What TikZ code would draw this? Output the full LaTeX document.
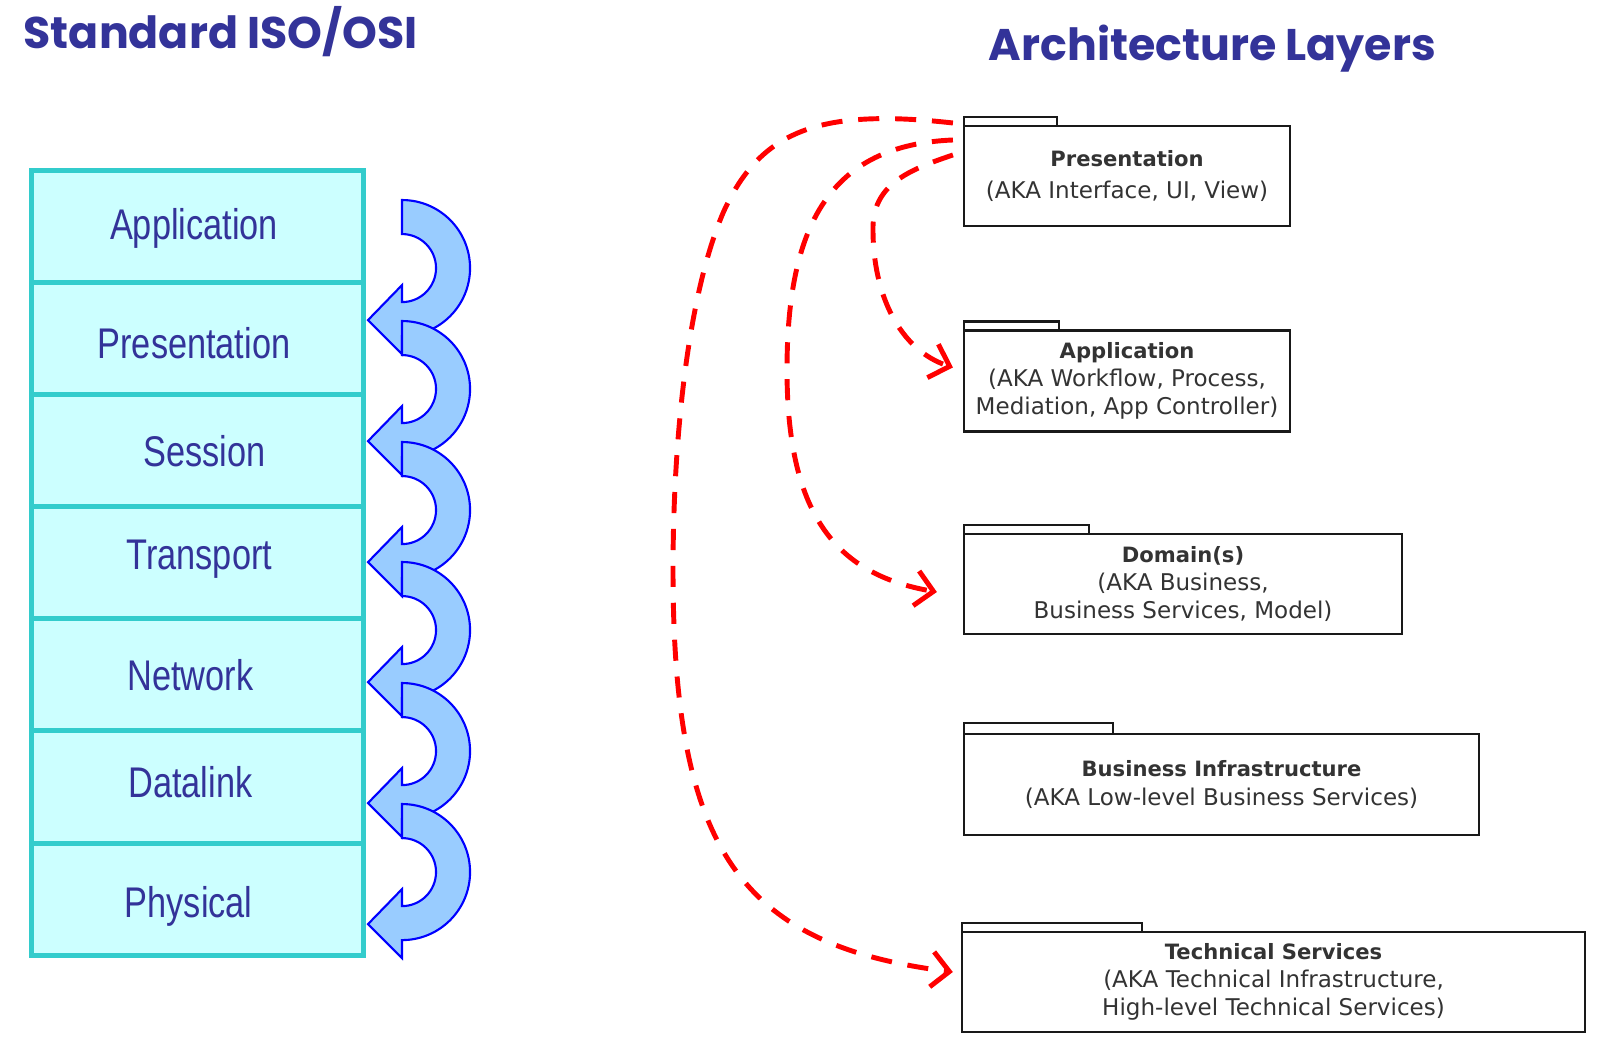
\documentclass[tikz,border=0pt]{standalone}
\usepackage{fontspec}
\setmainfont{DejaVu Sans}
\newfontfamily\narrowfont[FakeStretch=0.8]{Liberation Sans}
\newfontfamily\headfont{Poppins}
\usetikzlibrary{arrows.meta}

\definecolor{osiblue}{HTML}{333399}
\definecolor{layerfill}{HTML}{CCFFFF}
\definecolor{layerline}{HTML}{33CCCC}
\definecolor{turnfill}{HTML}{99CCFF}
\definecolor{turnline}{HTML}{0000FF}

\tikzset{
  heading/.style={anchor=base west, inner sep=0pt, text=osiblue, font=\headfont\bfseries\fontsize{12.6}{15}\selectfont},
  layer/.style={draw=layerline, fill=layerfill, line width=1.4pt, minimum width=3.31cm, minimum height=1.121cm, inner sep=0pt, outer sep=0pt, text=osiblue, font=\narrowfont\fontsize{12.2}{14}\selectfont, text height=8.7pt, text depth=0pt},
  turn/.style={draw=turnline, fill=turnfill, line width=0.6pt, line join=miter},
  pkg/.style={draw=black!90, line width=0.6pt, fill=white, align=center, inner sep=0pt, outer sep=0pt, text=black!80, font=\fontsize{6.55}{8}\selectfont},
  pkgtab/.style={draw=black!90, line width=0.6pt},
  link/.style={draw=red, line width=1.4pt, dash pattern=on 6pt off 4.5pt, -{Straight Barb[length=5pt,width=10pt]}},
}

\begin{document}
\begin{tikzpicture}[x=0.01cm, y=-0.01cm]
\useasboundingbox (0,0) rectangle (1601,1044);

\node[heading](osi) at (23,48) {Standard ISO/OSI};
\node[heading](arch) at (988,60) {Architecture Layers};

% ISO/OSI stack
\node[layer, text depth=1.5pt](L7) at (197.5,226.5) {Application\hspace*{2pt}};
\node[layer, text height=11.5pt](L6) at (197.5,338.6) {Presentation\hspace*{2pt}};
\node[layer](L5) at (197.5,450.7) {\hspace*{4pt}Session};
\node[layer, text depth=5pt](L4) at (197.5,562.8) {\hspace*{1pt}Transport};
\node[layer](L3) at (197.5,674.9) {Network\hspace*{4pt}};
\node[layer, text depth=2.8pt](L2) at (197.5,787) {Datalink\hspace*{4pt}};
\node[layer, text height=10.4pt](L1) at (197.5,899.1) {Physical\hspace*{5pt}};

\draw[turn] (402,200) arc[start angle=90, end angle=-90, radius=0.68cm] -- ++(0,18) -- ++(-34,-34) -- ++(34,-35) -- ++(0,17) arc[start angle=-90, end angle=90, radius=0.34cm] -- cycle;
\draw[turn] (402,321) arc[start angle=90, end angle=-90, radius=0.68cm] -- ++(0,18) -- ++(-34,-34) -- ++(34,-35) -- ++(0,17) arc[start angle=-90, end angle=90, radius=0.34cm] -- cycle;
\draw[turn] (402,442) arc[start angle=90, end angle=-90, radius=0.68cm] -- ++(0,18) -- ++(-34,-34) -- ++(34,-35) -- ++(0,17) arc[start angle=-90, end angle=90, radius=0.34cm] -- cycle;
\draw[turn] (402,562) arc[start angle=90, end angle=-90, radius=0.68cm] -- ++(0,18) -- ++(-34,-34) -- ++(34,-35) -- ++(0,17) arc[start angle=-90, end angle=90, radius=0.34cm] -- cycle;
\draw[turn] (402,683) arc[start angle=90, end angle=-90, radius=0.68cm] -- ++(0,18) -- ++(-34,-34) -- ++(34,-35) -- ++(0,17) arc[start angle=-90, end angle=90, radius=0.34cm] -- cycle;
\draw[turn] (402,804) arc[start angle=90, end angle=-90, radius=0.68cm] -- ++(0,18) -- ++(-34,-34) -- ++(34,-35) -- ++(0,17) arc[start angle=-90, end angle=90, radius=0.34cm] -- cycle;

% architecture packages
\node[pkg, minimum width=3.26cm, minimum height=1cm](pres) at (1127,176) {{\bfseries\fontsize{6}{8}\selectfont Presentation}\\[1pt](AKA Interface, UI, View)};
\node[pkg, minimum width=3.26cm, minimum height=1.01cm](app) at (1127,381) {{\bfseries\fontsize{6}{8}\selectfont Application}\\(AKA Workflow, Process,\\Mediation, App Controller)};
\node[pkg, minimum width=4.38cm, minimum height=1cm](dom) at (1183,584) {{\bfseries\fontsize{6}{8}\selectfont Domain(s)}\\(AKA Business,\\Business Services, Model)};
\node[pkg, minimum width=5.15cm, minimum height=1.01cm](bus) at (1221.5,784.5) {{\bfseries\fontsize{6}{8}\selectfont Business Infrastructure}\\(AKA Low-level Business Services)};
\node[pkg, minimum width=6.23cm, minimum height=1cm](tech) at (1273.5,982) {{\bfseries\fontsize{6}{8}\selectfont Technical Services}\\(AKA Technical Infrastructure,\\High-level Technical Services)};

\draw[pkgtab] (pres.north west) rectangle ++(93,-9);
\draw[pkgtab] (app.north west) rectangle ++(95,-9);
\draw[pkgtab] (dom.north west) rectangle ++(125,-9);
\draw[pkgtab] (bus.north west) rectangle ++(149,-11);
\draw[pkgtab] (tech.north west) rectangle ++(180,-9);

\draw[link] ([shift={(-11,-3)}]pres.north west) .. controls (820,108) and (760,130) .. (723,213) .. controls (684,305) and (673,460) .. (673,570) .. controls (673,850) and (740,945) .. ([shift={(-9,40)}]tech.north west);
\draw[link] ([shift={(-11,14)}]pres.north west) .. controls (830,145) and (787,225) .. (787,370) .. controls (787,520) and (840,575) .. ([shift={(-27,58)}]dom.north west);
\draw[link] ([shift={(-11,29)}]pres.north west) .. controls (908,170) and (872,185) .. (873,230) .. controls (873,295) and (900,350) .. ([shift={(-11,37)}]app.north west);
\end{tikzpicture}
\end{document}
